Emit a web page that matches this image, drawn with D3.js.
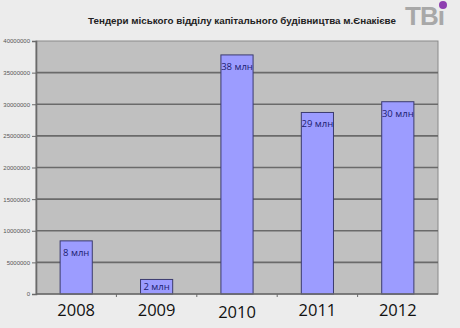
<!DOCTYPE html>
<html>
<head>
<meta charset="utf-8">
<script src="https://cdn.jsdelivr.net/npm/d3@7/dist/d3.min.js"></script>
<style>
  html, body { margin: 0; padding: 0; background: #ececec; }
  svg { display: block; }
</style>
</head>
<body>
<svg id="chart" width="460" height="328"></svg>
<script>
// Tender volumes of the city capital construction department, by year (UAH)
const years = ["2008", "2009", "2010", "2011", "2012"];
const amounts = [8400000, 2300000, 37800000, 28700000, 30400000];
const yTicks = [0, 5000000, 10000000, 15000000, 20000000, 25000000, 30000000, 35000000, 40000000];
const title = "Тендери міського відділу капітального будівництва м.Єнакієве";

const svg = d3.select("#chart");
const W = 460, H = 328;
const m = { left: 36, right: 22, top: 41, bottom: 34 };
const plotW = W - m.left - m.right;
const plotH = H - m.top - m.bottom;

svg.append("rect").attr("width", W).attr("height", H).attr("fill", "#ececec");

const x = d3.scaleBand().domain(years).range([0, plotW]).paddingInner(0.6).paddingOuter(0.3);
const y = d3.scaleLinear().domain([0, 40000000]).range([plotH, 0]);

const g = svg.append("g").attr("transform", `translate(${m.left},${m.top})`);

// plot area
g.append("rect").attr("width", plotW).attr("height", plotH)
  .attr("fill", "#c0c0c0").attr("stroke", "#8a8a8a").attr("stroke-width", 1);

// horizontal gridlines
g.append("g").selectAll("line").data(yTicks.slice(1, -1)).join("line")
  .attr("x1", 0).attr("x2", plotW)
  .attr("y1", d => y(d)).attr("y2", d => y(d))
  .attr("stroke", "#6a6a6a").attr("stroke-width", 1.6);

// y axis
const yAxis = g.append("g").call(d3.axisLeft(y).tickValues(yTicks).tickSize(4).tickPadding(2).tickFormat(d3.format("d")));
yAxis.select(".domain").attr("stroke", "#6a6a6a").attr("stroke-width", 1.6);
yAxis.selectAll(".tick line").attr("stroke", "#6a6a6a");
yAxis.selectAll(".tick text").attr("fill", "#555").style("font", "6px 'Liberation Sans', Arial, sans-serif");

// bars
g.append("g").selectAll("rect").data(years).join("rect")
  .attr("x", d => x(d)).attr("width", x.bandwidth())
  .attr("y", (d, i) => y(amounts[i]))
  .attr("height", (d, i) => plotH - y(amounts[i]))
  .attr("fill", "#9c9cff").attr("stroke", "#3b3b6e").attr("stroke-width", 1);

// value labels
g.append("g").selectAll("text").data(years).join("text")
  .attr("x", d => x(d) + x.bandwidth() / 2)
  .attr("y", (d, i) => {
    const top = y(amounts[i]), h = plotH - top;
    return top + Math.min(15, h / 2 + 3.5);
  })
  .attr("text-anchor", "middle")
  .attr("fill", "#1c1c70")
  .style("font", "9.5px 'Open Sans', sans-serif")
  .text((d, i) => Math.round(amounts[i] / 1e6) + " млн");

// x axis with ticks at category boundaries
g.append("line").attr("x1", 0).attr("x2", plotW).attr("y1", plotH).attr("y2", plotH)
  .attr("stroke", "#6a6a6a").attr("stroke-width", 1.6);
const step = x.step();
const bounds = d3.range(1, years.length).map(i => x(years[i]) - (step - x.bandwidth()) / 2);
g.append("g").selectAll("line").data(bounds).join("line")
  .attr("x1", d => d).attr("x2", d => d).attr("y1", plotH).attr("y2", plotH + 3)
  .attr("stroke", "#6a6a6a");

// year labels
g.append("g").selectAll("text").data(years).join("text")
  .attr("x", d => x(d) + x.bandwidth() / 2)
  .attr("y", (d, i) => plotH + (i === 2 ? 23.5 : 21.5))
  .attr("text-anchor", "middle")
  .attr("fill", "#111")
  .style("font", "16.5px 'Open Sans', sans-serif")
  .text(d => d);

// title
svg.append("text").attr("x", 242).attr("y", 24).attr("text-anchor", "middle")
  .attr("fill", "#222")
  .style("font", "bold 9.8px 'Liberation Sans', Arial, sans-serif")
  .text(title);

// channel logo
const logo = svg.append("g");
logo.append("text").attr("x", 405).attr("y", 25)
  .attr("fill", "#a8a8a8")
  .style("font", "bold 26px 'Liberation Sans', Arial, sans-serif")
  .style("letter-spacing", "-1px")
  .text("TBı");
logo.append("circle").attr("cx", 443).attr("cy", 5).attr("r", 4).attr("fill", "#8e3fb0");
</script>
</body>
</html>
